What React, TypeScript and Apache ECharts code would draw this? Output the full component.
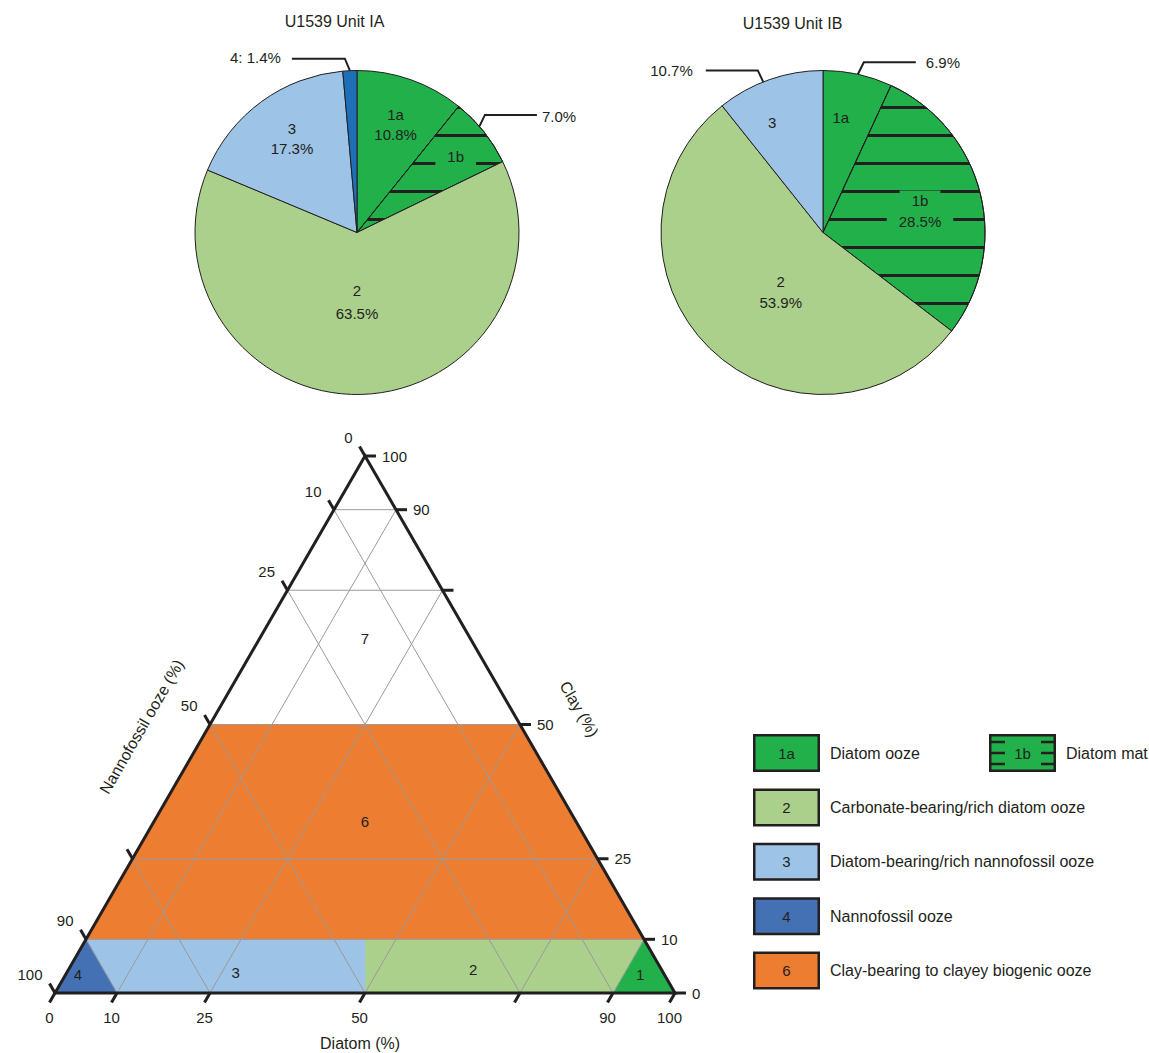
import React, { useEffect, useRef } from 'react';
import * as echarts from 'echarts';

// ---------------- data ----------------
const pieTitles = ['U1539 Unit IA', 'U1539 Unit IB'];
const unitIACategories = ['1a', '1b', '2', '3', '4'];
const unitIAValues = [10.8, 7.0, 63.5, 17.3, 1.4];
const unitIBCategories = ['1a', '1b', '2', '3'];
const unitIBValues = [6.9, 28.5, 53.9, 10.7];

const lithologyKeys = ['1a', '1b', '2', '3', '4', '6'];
const lithologyNames = [
  'Diatom ooze',
  'Diatom mat',
  'Carbonate-bearing/rich diatom ooze',
  'Diatom-bearing/rich nannofossil ooze',
  'Nannofossil ooze',
  'Clay-bearing to clayey biogenic ooze',
];
const lithologyColors = ['#22B04B', '#22B04B', '#AAD08C', '#9DC3E6', '#4471B4', '#ED7D31'];
const pieUnit4Color = '#1F6FB8';

// Ternary diagram: vertices as (Diatom, Nannofossil, Clay) %
const ternaryRegionIds = ['1', '2', '3', '4', '6', '7'];
const ternaryRegionColors = ['#22B04B', '#AAD08C', '#9DC3E6', '#4471B4', '#ED7D31', '#FFFFFF'];
const ternaryRegionVertices = [
  [[100, 0, 0], [90, 10, 0], [90, 0, 10]],
  [[90, 10, 0], [50, 50, 0], [45, 45, 10], [90, 0, 10]],
  [[50, 50, 0], [10, 90, 0], [0, 90, 10], [45, 45, 10]],
  [[0, 100, 0], [10, 90, 0], [0, 90, 10]],
  [[0, 90, 10], [90, 0, 10], [50, 0, 50], [0, 50, 50]],
  [[0, 50, 50], [50, 0, 50], [0, 0, 100]],
];
const ternaryRegionLabelAt = [
  [92.7, 3.9, 3.4],
  [65.3, 30.4, 4.3],
  [27.2, 68.9, 3.9],
  [2, 94.6, 3.4],
  [34, 34, 32],
  [17, 17, 66],
];
const ternaryGridValues = [10, 25, 50, 75, 90];
const ternaryTickValues = [0, 10, 25, 50, 75, 90, 100];
const ternaryTickLabels = ['0', '10', '25', '50', '', '90', '100'];
const ternaryAxisTitles = ['Diatom (%)', 'Nannofossil ooze (%)', 'Clay (%)'];

// ---------------- layout / style ----------------
const FONT = '"Liberation Sans", Arial, Helvetica, sans-serif';
const INK = '#231f20';
const GRIDLINE = '#9a9a9a';
const PIE_R = 162;
const PIE_CENTERS = [[357, 232.5], [823, 232.5]];
const TITLE_POS = [[334.5, 21], [792.5, 23]];
const TERNARY_GRID = { left: 55, top: 456, width: 620, height: 537 };
const HATCH = {
  symbol: 'rect',
  symbolSize: 1,
  dashArrayX: [20, 0],
  dashArrayY: [0, 22, 3, 3],
  rotation: 0,
  color: INK,
};

const pieLabelSpecs: any[] = [
  {
    '1a': { inside: { show: 'both', rf: 0.709, da: 0.2 } },
    '1b': {
      inside: { show: 'name', rf: 0.77, da: 0.8, bg: true },
      outside: { fmt: 'pct', ada: -2.4, ex: 5.5, ey: -11.5, len: 52, gap: 5, ty: 1.5 },
    },
    '2': { inside: { show: 'both', rf: 0.43, da: 1.6, gap: 23 } },
    '3': { inside: { show: 'both', rf: 0.705, da: 1.5 } },
    '4': { outside: { fmt: 'namepct', ada: 0, ex: -5, ey: -12, len: 53, gap: 11, ty: -1.4 } },
  },
  {
    '1a': {
      inside: { show: 'name', rf: 0.716, da: -3.6 },
      outside: { fmt: 'pct', ada: 0, ex: 6, ey: -12, len: 52, gap: 10, ty: 0 },
    },
    '1b': { inside: { show: 'both', rf: 0.613, da: 1.5, bg: true } },
    '2': { inside: { show: 'both', rf: 0.452, da: -9.2, gap: 21 } },
    '3': {
      inside: { show: 'name', rf: 0.748, da: -5.6 },
      outside: { fmt: 'pct', ada: -2.4, ex: -5.4, ey: -11.5, len: 52, gap: 13, ty: 0 },
    },
  },
];

const LEG = { col: [753, 989], y0: 734, dy: 54.4, w: 67, h: 38 };
const legendSlots = [[0, 0], [1, 0], [0, 1], [0, 2], [0, 3], [0, 4]];

const SQ = Math.sqrt(3) / 2;
const t2c = (p: number[]) => [p[0] + p[2] / 2, p[2] * SQ];

function sliceColor(c: string) {
  if (c === '4') return pieUnit4Color;
  return lithologyColors[lithologyKeys.indexOf(c)];
}

function pieData(k: number) {
  return k === 0
    ? { cats: unitIACategories, vals: unitIAValues }
    : { cats: unitIBCategories, vals: unitIBValues };
}

function pieSeries(k: number) {
  const { cats, vals } = pieData(k);
  return {
    type: 'pie',
    center: PIE_CENTERS[k],
    radius: PIE_R,
    startAngle: 90,
    clockwise: true,
    silent: true,
    label: { show: false },
    labelLine: { show: false },
    emphasis: { disabled: true },
    itemStyle: { borderColor: INK, borderWidth: 1 },
    data: cats.map((c, i) => {
      const itemStyle: any = { color: sliceColor(c), borderColor: INK, borderWidth: 1 };
      if (c === '1b') itemStyle.decal = HATCH;
      return { name: c, value: vals[i], itemStyle };
    }),
  };
}

function txt(x: number, y: number, text: string, size: number, align: string, extra: any = {}) {
  return {
    type: 'text',
    x,
    y,
    z: 100,
    style: {
      text,
      fill: INK,
      fontSize: size,
      fontFamily: FONT,
      align,
      verticalAlign: 'middle',
      ...extra,
    },
  };
}

function pieLabelElements(k: number) {
  const { cats, vals } = pieData(k);
  const [cx, cy] = PIE_CENTERS[k];
  const total = vals.reduce((a, b) => a + b, 0);
  let acc = 0;
  const els: any[] = [];
  cats.forEach((c, i) => {
    const mid = ((acc + vals[i] / 2) / total) * 360;
    acc += vals[i];
    const spec = pieLabelSpecs[k][c];
    const pct = vals[i].toFixed(1) + '%';
    if (spec.inside) {
      const s = spec.inside;
      const a = ((mid + (s.da || 0)) * Math.PI) / 180;
      const r = s.rf * PIE_R;
      const px = cx + r * Math.sin(a);
      const py = cy - r * Math.cos(a);
      const lines = s.show === 'both' ? [c, pct] : [c];
      const gap = s.gap ?? 20.5;
      lines.forEach((t, j) => {
        const y = py + (j - (lines.length - 1) / 2) * gap;
        const extra: any = {};
        if (s.bg) {
          extra.backgroundColor = sliceColor(c);
          extra.padding = [3, 12];
        }
        els.push(txt(px, y, t, 15, 'center', extra));
      });
    }
    if (spec.outside) {
      const o = spec.outside;
      const a = ((mid + o.ada) * Math.PI) / 180;
      const ax = cx + PIE_R * Math.sin(a);
      const ay = cy - PIE_R * Math.cos(a);
      const ex = ax + o.ex;
      const ey = ay + o.ey;
      const side = o.ex >= 0 ? 1 : -1;
      const endX = ex + side * o.len;
      els.push({
        type: 'polyline',
        z: 100,
        shape: { points: [[ax, ay], [ex, ey], [endX, ey]] },
        style: { stroke: INK, lineWidth: 2, fill: null },
      });
      const text = o.fmt === 'pct' ? pct : `${c}: ${pct}`;
      els.push(txt(endX + side * o.gap, ey + o.ty, text, 15, side > 0 ? 'left' : 'right'));
    }
  });
  return els;
}

function legendElements() {
  const els: any[] = [];
  lithologyKeys.forEach((key, i) => {
    const [col, row] = legendSlots[i];
    const X = LEG.col[col];
    const Y = LEG.y0 + row * LEG.dy;
    els.push({
      type: 'rect',
      z: 100,
      shape: { x: X + 1.25, y: Y + 1.25, width: LEG.w - 2.5, height: LEG.h - 2.5 },
      style: { fill: lithologyColors[i], stroke: INK, lineWidth: 2.5 },
    });
    if (key === '1b') {
      [Y + 8, Y + LEG.h / 2, Y + LEG.h - 8].forEach((yy) => {
        els.push({ type: 'line', z: 101, shape: { x1: X, y1: yy, x2: X + 16, y2: yy }, style: { stroke: INK, lineWidth: 2.5 } });
        els.push({ type: 'line', z: 101, shape: { x1: X + LEG.w - 15, y1: yy, x2: X + LEG.w, y2: yy }, style: { stroke: INK, lineWidth: 2.5 } });
      });
    }
    els.push(txt(X + LEG.w / 2, Y + LEG.h / 2, key, 15, 'center'));
    els.push(txt(X + LEG.w + 10, Y + LEG.h / 2, lithologyNames[i], 16, 'left'));
  });
  return els;
}

function buildOption() {
  const axesKeys = ['D', 'N', 'C'];
  const gridLines: { a: string; v: number }[] = [];
  axesKeys.forEach((a) => ternaryGridValues.forEach((v) => gridLines.push({ a, v })));
  const gridEnds = (g: { a: string; v: number }) => {
    const v = g.v;
    if (g.a === 'C') return [[0, 100 - v, v], [100 - v, 0, v]];
    if (g.a === 'D') return [[v, 100 - v, 0], [v, 0, 100 - v]];
    return [[100 - v, v, 0], [0, v, 100 - v]];
  };

  const ticks: { a: number; i: number }[] = [];
  [0, 1, 2].forEach((a) => ternaryTickValues.forEach((_, i) => ticks.push({ a, i })));
  const tickPoint = (a: number, v: number) =>
    a === 0 ? [v, 100 - v, 0] : a === 1 ? [0, v, 100 - v] : [100 - v, 0, v];
  const tickDir = [[-0.5, SQ], [-0.5, -SQ], [1, 0]];
  const TL = 11;

  const base = { type: 'custom', coordinateSystem: 'cartesian2d', silent: true, clip: false };

  const series: any[] = [
    pieSeries(0),
    pieSeries(1),
    {
      ...base,
      data: ternaryRegionLabelAt.map((p) => t2c(p)),
      renderItem: (params: any, api: any) => {
        const i = params.dataIndex;
        const points = ternaryRegionVertices[i].map((v) => api.coord(t2c(v)));
        return {
          type: 'polygon',
          shape: { points },
          style: { fill: ternaryRegionColors[i], stroke: ternaryRegionColors[i], lineWidth: 0.6 },
        };
      },
    },
    {
      ...base,
      data: gridLines.map((g) => t2c(gridEnds(g)[0])),
      renderItem: (params: any, api: any) => {
        const [p1, p2] = gridEnds(gridLines[params.dataIndex]).map((v) => api.coord(t2c(v)));
        return {
          type: 'line',
          shape: { x1: p1[0], y1: p1[1], x2: p2[0], y2: p2[1] },
          style: { stroke: GRIDLINE, lineWidth: 1 },
        };
      },
    },
    {
      ...base,
      data: [t2c([0, 100, 0])],
      renderItem: (params: any, api: any) => {
        const points = [[0, 100, 0], [100, 0, 0], [0, 0, 100]].map((v) => api.coord(t2c(v)));
        return {
          type: 'polygon',
          shape: { points },
          style: { fill: 'none', stroke: INK, lineWidth: 3, lineJoin: 'miter' },
        };
      },
    },
    {
      ...base,
      data: ticks.map((t) => t2c(tickPoint(t.a, ternaryTickValues[t.i]))),
      renderItem: (params: any, api: any) => {
        const t = ticks[params.dataIndex];
        const p = api.coord(t2c(tickPoint(t.a, ternaryTickValues[t.i])));
        const d = tickDir[t.a];
        const e = [p[0] + d[0] * TL, p[1] + d[1] * TL];
        const children: any[] = [
          {
            type: 'line',
            shape: { x1: p[0], y1: p[1], x2: e[0], y2: e[1] },
            style: { stroke: INK, lineWidth: 3 },
          },
        ];
        const label = ternaryTickLabels[t.i];
        if (label) {
          let x = e[0];
          let y = e[1];
          let align = 'center';
          if (t.a === 0) {
            y += 15;
          } else if (t.a === 1) {
            x -= 7;
            y -= 9;
            align = 'right';
          } else {
            x += 6;
            align = 'left';
          }
          children.push({
            type: 'text',
            x,
            y,
            style: { text: label, fill: INK, fontSize: 15, fontFamily: FONT, align, verticalAlign: 'middle' },
          });
        }
        return { type: 'group', children };
      },
    },
    {
      ...base,
      data: ternaryRegionLabelAt.map((p) => t2c(p)),
      renderItem: (params: any, api: any) => {
        const i = params.dataIndex;
        const p = api.coord(t2c(ternaryRegionLabelAt[i]));
        return {
          type: 'text',
          x: p[0],
          y: p[1],
          style: { text: ternaryRegionIds[i], fill: INK, fontSize: 15, fontFamily: FONT, align: 'center', verticalAlign: 'middle' },
        };
      },
    },
    {
      ...base,
      data: [t2c([49.2, 50.8, 0]), t2c([0, 55.8, 44.2]), t2c([52.6, 0, 47.4])],
      renderItem: (params: any, api: any) => {
        const i = params.dataIndex;
        const anchors = [[49.2, 50.8, 0], [0, 55.8, 44.2], [52.6, 0, 47.4]];
        const p = api.coord(t2c(anchors[i]));
        let x = p[0];
        let y = p[1];
        let rotation = 0;
        if (i === 0) {
          y += 50;
        } else if (i === 1) {
          x += 58 * -SQ;
          y += 58 * -0.5;
          rotation = Math.PI / 3;
        } else {
          x += 59 * SQ;
          y += 59 * -0.5;
          rotation = -Math.PI / 3;
        }
        return {
          type: 'text',
          x,
          y,
          rotation,
          style: { text: ternaryAxisTitles[i], fill: INK, fontSize: 16, fontFamily: FONT, align: 'center', verticalAlign: 'middle' },
        };
      },
    },
  ];

  const graphicEls: any[] = [
    txt(TITLE_POS[0][0], TITLE_POS[0][1], pieTitles[0], 16, 'center'),
    txt(TITLE_POS[1][0], TITLE_POS[1][1], pieTitles[1], 16, 'center'),
    ...pieLabelElements(0),
    ...pieLabelElements(1),
    ...legendElements(),
  ];

  return {
    animation: false,
    backgroundColor: '#ffffff',
    textStyle: { fontFamily: FONT },
    grid: { ...TERNARY_GRID, show: false },
    xAxis: { type: 'value', min: 0, max: 100, show: false },
    yAxis: { type: 'value', min: 0, max: 100 * SQ, show: false },
    series,
    graphic: { elements: graphicEls },
  };
}

export default function App() {
  const ref = useRef<HTMLDivElement>(null);
  useEffect(() => {
    if (!ref.current) return;
    const chart = echarts.init(ref.current, null, { renderer: 'svg' });
    chart.setOption(buildOption() as any);
    return () => chart.dispose();
  }, []);
  return (
    <div
      ref={ref}
      style={{ position: 'absolute', left: 0, top: 0, width: 1149, height: 1053, background: '#fff' }}
    />
  );
}
